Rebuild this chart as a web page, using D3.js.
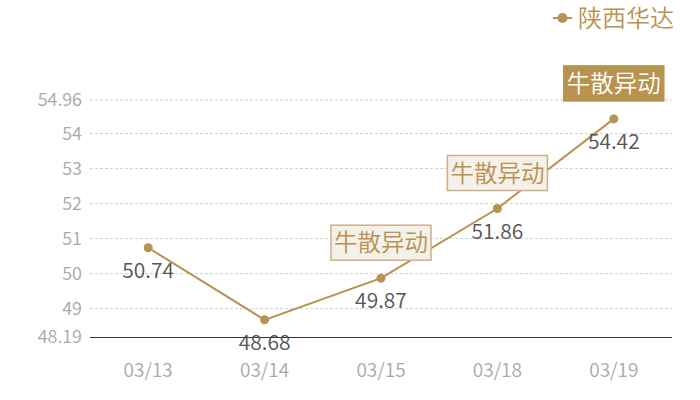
<!DOCTYPE html>
<html><head><meta charset="utf-8">
<script src="https://cdn.jsdelivr.net/npm/d3@7"></script>
<style>
body{margin:0;background:#fff;}
text{font-family:"Noto Sans CJK SC","Noto Sans",sans-serif;font-weight:350;}
</style></head>
<body><svg id="c" width="700" height="400"></svg>
<script>
const categories = ["03/13","03/14","03/15","03/18","03/19"];
const values = [50.74, 48.68, 49.87, 51.86, 54.42];
const yTicks = [48.19, 49, 50, 51, 52, 53, 54, 54.96];
const annotations = [
  {cat:"03/15", text:"牛散异动", filled:false},
  {cat:"03/18", text:"牛散异动", filled:false},
  {cat:"03/19", text:"牛散异动", filled:true}
];
const seriesName = "陕西华达";

const gold = "#b8924f";
const svg = d3.select("#c");
const x = d3.scaleBand().domain(categories).range([90, 672]);
const y = d3.scaleLinear().domain([48.19, 54.96]).range([337, 100]);
const cx = c => x(c) + x.bandwidth()/2;

// gridlines
svg.append("g").selectAll("line").data(yTicks.filter(t=>t!==48.19)).join("line")
  .attr("x1",90).attr("x2",672).attr("y1",d=>y(d)).attr("y2",d=>y(d))
  .attr("stroke","#d0d0d0").attr("stroke-dasharray","3,2").attr("stroke-width",1);

// y axis labels
const yAxis = svg.append("g").attr("transform","translate(90,0)")
  .call(d3.axisLeft(y).tickValues(yTicks).tickSize(0).tickPadding(8).tickFormat(d=>String(d)));
yAxis.select(".domain").remove();
yAxis.selectAll("text").attr("fill","#a8a8a8").style("font-size","18px");

// x axis
const xAxis = svg.append("g").attr("transform","translate(0,337)")
  .call(d3.axisBottom(x).tickSize(0).tickPadding(27));
xAxis.select(".domain").attr("stroke","#333").attr("d","M90,0.5H672");
xAxis.selectAll("text").attr("fill","#a8a8a8").style("font-size","19px");

// line
const pts = categories.map((c,i)=>({c, v:values[i]}));
svg.append("path").datum(pts)
  .attr("d", d3.line().x(d=>cx(d.c)).y(d=>y(d.v)))
  .attr("fill","none").attr("stroke",gold).attr("stroke-width",2);
svg.append("g").selectAll("circle").data(pts).join("circle")
  .attr("cx",d=>cx(d.c)).attr("cy",d=>y(d.v)).attr("r",4.5).attr("fill",gold);
svg.append("g").selectAll("text").data(pts).join("text")
  .attr("x",d=>cx(d.c)).attr("y",d=>y(d.v)+30).attr("text-anchor","middle")
  .attr("fill","#555").style("font-size","21px").text(d=>d.v.toFixed(2));

// annotations
const ann = svg.append("g").selectAll("g").data(annotations).join("g")
  .attr("transform", d=>{const v = values[categories.indexOf(d.cat)]; return `translate(${cx(d.cat)},${y(v)-18})`;});
ann.append("rect").attr("x",-50).attr("y",-35).attr("width",100).attr("height",35)
  .attr("fill",d=>d.filled?gold:"#f4f0ea")
  .attr("stroke",d=>d.filled?gold:"#cdb088").attr("stroke-width",1.5);
ann.append("text").attr("x",0).attr("y",-9).attr("text-anchor","middle")
  .attr("fill",d=>d.filled?"#fff":gold).style("font-size","23.5px").text(d=>d.text);

// legend
const lg = svg.append("g").attr("transform","translate(553,18)");
lg.append("line").attr("x1",0).attr("x2",19).attr("stroke",gold).attr("stroke-width",2);
lg.append("circle").attr("cx",9.5).attr("r",5).attr("fill",gold);
lg.append("text").attr("x",25).attr("y",9).attr("fill",gold).style("font-size","24px").text(seriesName);
</script></body></html>
